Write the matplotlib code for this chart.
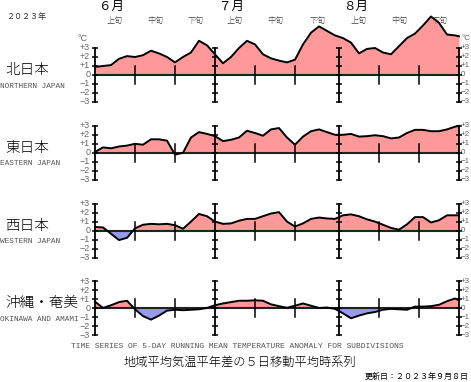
import matplotlib
matplotlib.use("Agg")
import matplotlib.pyplot as plt
import numpy as np

# day index from 1 June (0) to 31 August (91), sampled every 2 days
days = list(range(0, 91, 2)) + [91]

north = [0.9, 1.0, 1.1, 1.8, 2.1, 2.0, 2.2, 2.7, 2.4, 2.0,
         1.4, 2.0, 2.5, 3.8, 3.3, 2.3, 1.3, 2.0, 3.0, 3.8,
         3.4, 2.3, 1.85, 1.6, 1.4, 1.7, 3.4, 4.7, 5.4, 4.9,
         4.4, 4.1, 3.6, 2.4, 2.9, 3.0, 2.5, 2.3, 3.2, 4.1,
         4.6, 5.5, 6.5, 5.8, 4.5, 4.4, 4.3]
east = [0.1, 0.6, 0.5, 0.7, 0.8, 1.0, 0.9, 1.5, 1.5, 1.35,
        -0.2, 0.0, 1.7, 2.3, 2.1, 1.85, 1.3, 1.45, 1.7, 2.45,
        2.2, 1.9, 2.6, 2.75, 1.7, 0.9, 1.8, 2.4, 2.6, 2.3,
        2.0, 2.0, 2.1, 1.8, 1.85, 1.95, 1.85, 1.6, 1.7, 2.2,
        2.55, 2.55, 2.4, 2.4, 2.6, 2.9, 3.0]
west = [0.4, 0.35, -0.35, -1.05, -0.8, 0.25, 0.65, 0.75, 0.7, 0.75,
        0.6, 0.2, 1.0, 1.85, 1.6, 1.0, 0.75, 0.8, 1.1, 1.3,
        1.3, 1.6, 1.9, 2.05, 1.0, 0.45, 0.8, 1.3, 1.45, 1.35,
        1.3, 1.7, 1.8, 1.6, 1.25, 1.0, 0.65, 0.3, 0.1, 0.7,
        1.5, 1.5, 0.9, 1.15, 1.7, 1.7, 1.7]
okinawa = [0.75, 0.05, 0.35, 0.7, 0.85, -0.1, -0.85, -1.25, -0.8, -0.25,
           -0.15, -0.2, -0.15, -0.1, 0.05, 0.35, 0.55, 0.7, 0.85, 0.85,
           0.9, 0.85, 0.45, 0.25, 0.07, 0.3, 0.55, 0.3, 0.05, 0.1,
           -0.05, -0.55, -1.1, -0.8, -0.55, -0.4, -0.15, -0.05, -0.1, -0.15,
           0.2, 0.2, 0.25, 0.4, 0.8, 1.1, 0.9]

names_jp = ["北日本", "東日本", "西日本", "沖縄・奄美"]
names_en = ["NORTHERN JAPAN", "EASTERN JAPAN", "WESTERN JAPAN", "OKINAWA AND AMAMI"]
series = [north, east, west, okinawa]

month_starts = [0, 30, 61, 91]
month_labels = ["６月", "７月", "８月"]
decade_ticks = [10, 20, 40, 50, 71, 81]
decade_names = ["上旬", "中旬", "下旬"]
tick_vals = [3, 2, 1, 0, -1, -2, -3]
tick_text = ["+3", "+2", "+1", "0", "\u22121", "\u22122", "\u22123"]

JP = ["Noto Sans CJK JP", "DejaVu Sans"]
MONO = "Liberation Mono"
TICKF = "Liberation Sans"

W, H = 471, 382
fig = plt.figure(figsize=(W / 100, H / 100), dpi=100)

pos_color = "#ff9999"
neg_color = "#9999ee"
px_per_deg = 9.0
zeros = [75, 152.8, 230.6, 308.4]
tops = [7.0, 3.6, 3.6, 3.6]
x0, x1 = 95, 459

for k, vals in enumerate(series):
    y0 = zeros[k]
    top = tops[k]
    bot = -3.4
    bottom_px = y0 - bot * px_per_deg
    height_px = (top - bot) * px_per_deg
    ax = fig.add_axes([x0 / W, 1 - bottom_px / H, (x1 - x0) / W, height_px / H])
    ax.set_xlim(0, 91)
    ax.set_ylim(bot, top)
    ax.axis("off")

    d = np.array(days, dtype=float)
    v = np.array(vals, dtype=float)
    ax.fill_between(d, v, 0, where=v >= 0, interpolate=True, color=pos_color, lw=0)
    ax.fill_between(d, v, 0, where=v <= 0, interpolate=True, color=neg_color, lw=0)
    ax.plot(d, v, color="black", lw=1.4, clip_on=False, zorder=4)
    ax.axhline(0, color="#222222", lw=1.5, zorder=3)

    # month axes with integer ticks
    for m in month_starts:
        ax.plot([m, m], [-3, 3], color="black", lw=1.3, zorder=5, clip_on=False)
        ax.plot([m] * 7, tick_vals, ls="none", marker="_", ms=4.5, mew=1.1,
                color="black", zorder=5, clip_on=False)
    for t in decade_ticks:
        ax.plot([t, t], [-1, 1], color="black", lw=1.1, zorder=5)

    for val, s in zip(tick_vals, tick_text):
        ax.text(-1.2, val, s, ha="right", va="center", fontsize=6.5, family=TICKF,
                color="#666666", clip_on=False)
        ax.text(91.4, val, s, ha="left", va="center", fontsize=5.8, family=TICKF,
                color="#666666", clip_on=False)
    if k == 0:
        ax.text(-1.8, 4.0, "°C", ha="right", va="center", fontsize=6.5,
                family=TICKF, color="#666666")
        ax.text(91.6, 4.0, "°C", ha="left", va="center", fontsize=5.8,
                family=TICKF, color="#666666")

    fig.text(5 / W, 1 - (y0 - 5) / H, names_jp[k], family=JP, fontsize=10.5,
             weight="light", ha="left", va="center")
    fig.text(0.5 / W, 1 - (y0 + 11) / H, names_en[k], family=MONO, fontsize=5.6,
             color="#555555", ha="left", va="center")

# header: months and ten-day periods
for i, lab in enumerate(month_labels):
    xm = x0 + month_starts[i] * 4 + 4
    fig.text(xm / W, 1 - 6 / H, lab, family=JP, fontsize=9, ha="left", va="center")
period_edges = [0, 10, 20, 30, 40, 50, 61, 71, 81, 91]
for i in range(9):
    xc = x0 + (period_edges[i] + period_edges[i + 1]) / 2 * 4
    fig.text(xc / W, 1 - 20 / H, decade_names[i % 3], family=JP, fontsize=5.8,
             color="#444444", weight="light", ha="center", va="center")

fig.text(6 / W, 1 - 17 / H, "２０２３年", family=JP, fontsize=5.8, color="#333333",
         ha="left", va="center")
fig.text(237 / W, 1 - 347 / H,
         "TIME SERIES OF 5-DAY RUNNING MEAN TEMPERATURE ANOMALY FOR SUBDIVISIONS",
         family=MONO, fontsize=5.8, color="#555555", ha="center", va="center")
fig.text(240 / W, 1 - 362 / H, "地域平均気温平年差の５日移動平均時系列", family=JP,
         fontsize=8.8, weight="light", ha="center", va="center")
fig.text(469 / W, 1 - 376 / H, "更新日：２０２３年９月８日", family=JP, fontsize=5.8,
         ha="right", va="center")

fig.savefig("out.png", dpi=100)
